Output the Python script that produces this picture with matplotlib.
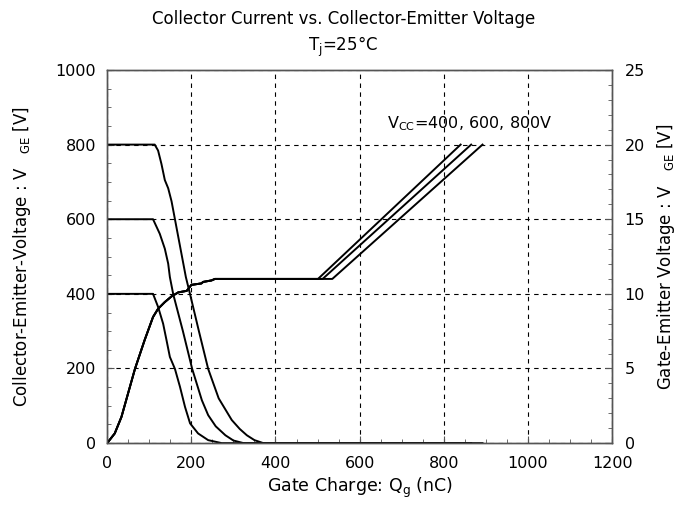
import matplotlib
matplotlib.use("Agg")
import matplotlib.pyplot as plt
from matplotlib.ticker import MultipleLocator

plt.rcParams['font.family'] = ['DejaVu Sans']
plt.rcParams['mathtext.fontset'] = 'custom'
plt.rcParams['mathtext.rm'] = 'DejaVu Sans'
plt.rcParams['mathtext.it'] = 'DejaVu Sans'

# ---- data ----
# Collector-emitter voltage curves (left axis, V) vs gate charge (nC)
q_vce400 = [0, 109, 121, 133, 141, 149, 161, 173, 185, 197, 216, 240, 272, 840]
v_vce400 = [400, 400, 365, 320, 276, 231, 199, 151, 97, 53, 26, 8, 0, 0]

q_vce600 = [0, 109, 125, 137, 145, 149, 157, 180, 202, 225, 240, 258, 281, 300, 324, 865]
v_vce600 = [600, 600, 561, 521, 481, 445, 399, 300, 199, 115, 75, 45, 21, 7, 0, 0]

q_vce800 = [0, 113, 121, 129, 137, 145, 153, 187, 197, 218, 240, 265, 296, 315, 332, 350, 371, 892]
v_vce800 = [800, 800, 784, 748, 705, 683, 648, 445, 399, 300, 199, 120, 62, 38, 21, 8, 0, 0]

# Gate-emitter voltage (right axis, V): common rising part, then plateau and branches
q_vge_common = [0, 18, 34, 66, 89, 109, 121, 137, 153, 169, 189, 200, 224, 228, 248, 256]
v_vge_common = [0, 0.65, 1.76, 4.97, 6.9, 8.45, 9.0, 9.45, 9.83, 10.1, 10.2, 10.6, 10.7, 10.8, 10.9, 11.0]
vge_plateau = 11.0
q_plateau_end = [501, 512, 535]     # VCC = 400, 600, 800 V
q_vge_end = [840, 865, 892]
vge_end = 20.0

x_ticks = [0, 200, 400, 600, 800, 1000, 1200]
y_left_ticks = [0, 200, 400, 600, 800, 1000]
y_right_ticks = [0, 5, 10, 15, 20, 25]

# ---- figure ----
fig = plt.figure(figsize=(6.87, 5.07), dpi=100)
ax = fig.add_axes([0.156, 0.126, 0.735, 0.736])
ax2 = ax.twinx()

lw = 1.4
for q, v in [(q_vce400, v_vce400), (q_vce600, v_vce600), (q_vce800, v_vce800)]:
    ax.plot(q, v, color='black', lw=lw, solid_joinstyle='round')

for qp, qe in zip(q_plateau_end, q_vge_end):
    ax2.plot(q_vge_common + [qp, qe], v_vge_common + [vge_plateau, vge_end],
             color='black', lw=lw, solid_joinstyle='round')

ax.set_xlim(0, 1200)
ax.set_ylim(0, 1000)
ax2.set_ylim(0, 25)
ax.set_xticks(x_ticks)
ax.set_yticks(y_left_ticks)
ax2.set_yticks(y_right_ticks)
ax.xaxis.set_minor_locator(MultipleLocator(50))
ax.yaxis.set_minor_locator(MultipleLocator(50))
ax2.yaxis.set_minor_locator(MultipleLocator(1))

for a in (ax, ax2):
    a.tick_params(which='both', direction='in', labelsize=11.5, color='#555555')
    a.tick_params(which='major', length=5)
    a.tick_params(which='minor', length=3)
    for s in a.spines.values():
        s.set_color('#555555')
        s.set_linewidth(1.0)
ax.tick_params(axis='x', pad=9)
ax.tick_params(axis='y', pad=8)
ax2.tick_params(axis='y', pad=9)

ax.grid(True, which='major', color='black', linestyle=(0, (4, 4)), linewidth=0.8)

ax.set_xlabel(r'Gate Charge: Q$_{\mathregular{g}}$ (nC)', fontsize=12.5, labelpad=4)
ax.set_ylabel(r'Collector-Emitter-Voltage : V$_{\mathregular{\ \ \ \ GE}}$ [V]', fontsize=12, labelpad=16)
ax2.set_ylabel(r'Gate-Emitter Voltage : V$_{\mathregular{\ \ \ \ GE}}$ [V]', fontsize=12, labelpad=7)

ax.text(0.555, 0.855, r'V$_{\mathregular{CC}}$=400, 600, 800V', transform=ax.transAxes,
        fontsize=11.5, ha='left', va='center')

fig.text(0.5, 0.963, 'Collector Current vs. Collector-Emitter Voltage', ha='center', va='center', fontsize=12)
fig.text(0.5, 0.908, r'T$_{\mathregular{j}}$=25°C', ha='center', va='center', fontsize=12)

fig.savefig('out.png', dpi=100)
